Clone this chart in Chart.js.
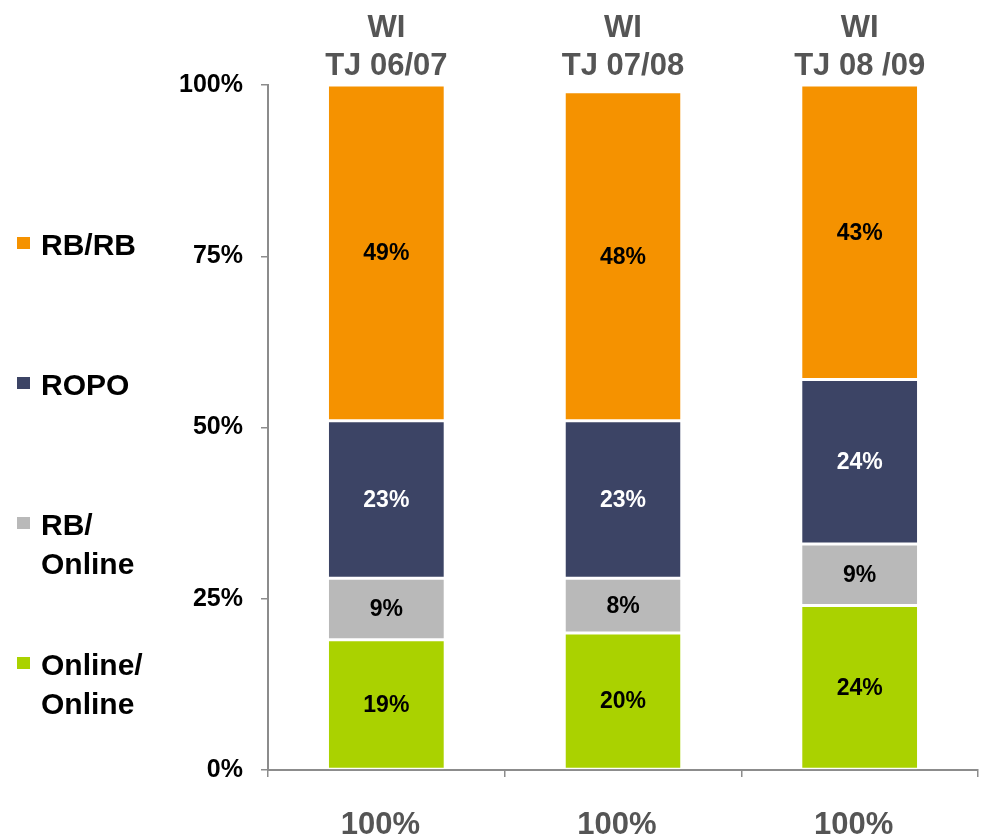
<!DOCTYPE html>
<html>
<head>
<meta charset="utf-8">
<script src="https://cdn.jsdelivr.net/npm/chart.js@4/dist/chart.umd.min.js"></script>
<style>
  html, body { margin: 0; padding: 0; background: #ffffff; }
  #chart { display: block; }
</style>
</head>
<body>
<canvas id="chart" width="1008" height="840"></canvas>
<script>
// Survey periods (shown above each column) and the total under each column
const categories = [['WI', 'TJ 06/07'], ['WI', 'TJ 07/08'], ['WI', 'TJ 08 /09']];
const totalLabels = ['100%', '100%', '100%'];

// Shares per period, in percent (stacked bottom to top)
const onlineOnline = [19, 20, 24];
const rbOnline = [9, 8, 9];
const ropo = [23, 23, 24];
const rbRb = [49, 48, 43];

// Value axis ticks
const yTickValues = [0, 25, 50, 75, 100];
const yTickLabels = ['0%', '25%', '50%', '75%', '100%'];

// Legend text, one entry per series (bottom to top), split into lines
const seriesNames = ['Online/Online', 'RB/Online', 'ROPO', 'RB/RB'];
const legendLines = [['Online/', 'Online'], ['RB/', 'Online'], ['ROPO'], ['RB/RB']];

const FONT = '"Liberation Sans", Arial, Helvetica, sans-serif';
const AXIS_GREY = '#8c8c8c';

const seriesValues = [onlineOnline, rbOnline, ropo, rbRb];
const seriesColors = ['#AAD200', '#B9B9B9', '#3C4465', '#F59200'];
const valueTextColors = ['#000000', '#000000', '#ffffff', '#000000'];

const datasets = seriesNames.map((name, i) => ({
  label: name,
  data: seriesValues[i],
  backgroundColor: seriesColors[i],
  borderColor: '#ffffff',
  borderWidth: { top: 1.5, bottom: 1.5, left: 0, right: 0 },
  borderSkipped: false,
  valueColor: valueTextColors[i],
  legendLines: legendLines[i],
  barPercentage: 0.486,
  categoryPercentage: 1.0
}));

// Percent text centred in each stacked segment
const segmentValues = {
  id: 'segmentValues',
  afterDatasetsDraw(chart) {
    const ctx = chart.ctx;
    ctx.save();
    ctx.font = 'bold 23px ' + FONT;
    ctx.textAlign = 'center';
    ctx.textBaseline = 'middle';
    chart.data.datasets.forEach((ds, di) => {
      const meta = chart.getDatasetMeta(di);
      meta.data.forEach((bar, i) => {
        const v = ds.data[i];
        ctx.fillStyle = ds.valueColor;
        ctx.fillText(v + '%', bar.x, (bar.y + bar.base) / 2 + 1);
      });
    });
    ctx.restore();
  }
};

// Series key down the left side, top series first
const sideLegend = {
  id: 'sideLegend',
  afterDraw(chart) {
    const ctx = chart.ctx;
    const items = chart.data.datasets.slice().reverse();
    ctx.save();
    ctx.font = 'bold 30px ' + FONT;
    ctx.textAlign = 'left';
    ctx.textBaseline = 'middle';
    items.forEach((ds, i) => {
      const y0 = 246 + 140 * i;
      ctx.fillStyle = ds.backgroundColor;
      ctx.fillRect(17, y0 - 9, 13, 12);
      ctx.fillStyle = '#000000';
      ds.legendLines.forEach((line, j) => {
        ctx.fillText(line, 41, y0 + 1 + j * 39);
      });
    });
    ctx.restore();
  }
};

new Chart(document.getElementById('chart'), {
  type: 'bar',
  data: { labels: categories, datasets },
  options: {
    responsive: false,
    animation: false,
    layout: { padding: { left: 0, right: 30, top: 0, bottom: 0 } },
    plugins: {
      legend: { display: false },
      tooltip: { enabled: false }
    },
    scales: {
      x: {
        type: 'category',
        position: 'bottom',
        stacked: true,
        offset: true,
        grid: {
          display: true,
          drawOnChartArea: false,
          offset: true,
          tickLength: 7,
          color: AXIS_GREY,
          lineWidth: 1.5
        },
        border: { display: true, color: AXIS_GREY, width: 2 },
        ticks: {
          callback: (v, i) => totalLabels[i],
          color: '#555555',
          font: { family: FONT, size: 31, weight: 'bold' },
          padding: 30,
          labelOffset: -6,
          maxRotation: 0
        },
        afterFit(s) { s.height = 70; }
      },
      x2: {
        type: 'category',
        axis: 'x',
        position: 'top',
        labels: categories,
        offset: true,
        grid: { display: false },
        border: { display: false },
        ticks: {
          color: '#555555',
          font: { family: FONT, size: 31, weight: 'bold', lineHeight: 1.23 },
          padding: -9,
          maxRotation: 0
        },
        afterFit(s) { s.height = 85; }
      },
      y: {
        position: 'left',
        stacked: true,
        min: 0,
        max: 100,
        afterBuildTicks(s) { s.ticks = yTickValues.map(v => ({ value: v })); },
        grid: {
          display: true,
          drawOnChartArea: false,
          tickLength: 7,
          color: AXIS_GREY,
          lineWidth: 1.5
        },
        border: { display: true, color: AXIS_GREY, width: 2 },
        ticks: {
          callback: (v) => yTickLabels[yTickValues.indexOf(v)],
          color: '#000000',
          font: { family: FONT, size: 25, weight: 'bold' },
          padding: 18
        },
        afterFit(s) { s.width = 268; }
      }
    }
  },
  plugins: [segmentValues, sideLegend]
});
</script>
</body>
</html>
